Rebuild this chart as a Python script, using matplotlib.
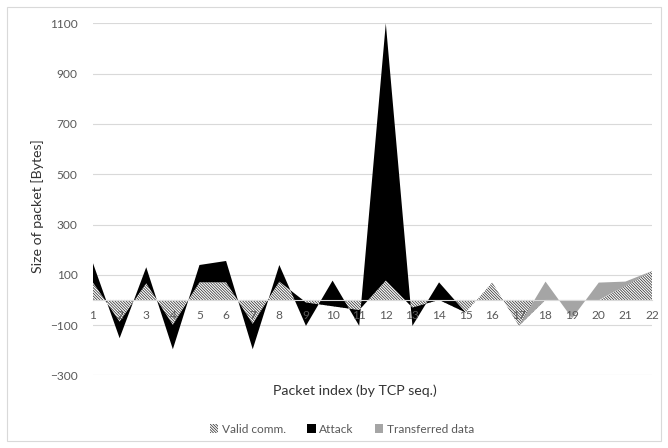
import numpy as np
import matplotlib.pyplot as plt
from matplotlib.patches import Patch, Rectangle

plt.rcParams['font.family'] = ['Lato', 'DejaVu Sans']
plt.rcParams['hatch.linewidth'] = 0.55

# Data (stacked area)
packets = list(range(1, 23))
valid = [69, -86, 66, -99, 70, 70, -95, 73, -10, -25, -40, 77, -30, 0,
         -50, 70, -103, 0, 0, 0, 55, 115]
attack = [77, -66, 64, -97, 69, 85, -101, 66, -93, 102, -63, 1023, -73, 70,
          0, 0, 0, 0, 0, 0, 0, 0]
transferred = [0, 0, 0, 0, 0, 0, 0, 0, 0, 0, 0, 0, 0, 0,
               0, 0, 0, 73, -73, 69, 18, 0]
yticks = [-300, -100, 100, 300, 500, 700, 900, 1100]

x = np.array(packets)
c1 = np.array(valid)
c2 = c1 + np.array(attack)
c3 = c2 + np.array(transferred)

HATCH = '\\' * 12

fig = plt.figure(figsize=(6.68, 4.48), dpi=100)
ax = fig.add_axes([93 / 668, 1 - 375.4 / 448, (652 - 93) / 668, (375.4 - 23.3) / 448])

# chart area border
fig.patches.append(Rectangle((7 / 668, 7 / 448), 654 / 668, 434 / 448,
                             transform=fig.transFigure, fill=False,
                             edgecolor='#d9d9d9', linewidth=0.8))

# gridlines behind the areas, tick labels stay on top
for t in yticks:
    ax.axhline(t, color='#d9d9d9', linewidth=0.8, zorder=0)

ax.fill_between(x, 0, c1, facecolor='white', edgecolor='#333333',
                hatch=HATCH, linewidth=0, zorder=1)
ax.fill_between(x, c1, c2, facecolor='black', linewidth=0, zorder=1)
ax.fill_between(x, c2, c3, facecolor='#a5a5a5', linewidth=0, zorder=1)

ax.set_xlim(1, 22)
ax.set_ylim(-300, 1100)
ax.set_yticks(yticks)
ax.set_xticks(packets)

for s in ['top', 'right', 'left']:
    ax.spines[s].set_visible(False)
ax.spines['bottom'].set_position(('data', 0))
ax.spines['bottom'].set_color('#d9d9d9')
ax.spines['bottom'].set_linewidth(0.8)
ax.spines['bottom'].set_zorder(5)

ax.tick_params(axis='both', length=0, labelsize=8.6, labelcolor='#595959')
ax.tick_params(axis='x', pad=7)
ax.tick_params(axis='y', pad=11)
ax.xaxis.set_zorder(6)

fig.text(38 / 668, 1 - 206 / 448, 'Size of packet [Bytes]', rotation=90,
         ha='center', va='center', fontsize=10.2, color='#333333')
fig.text(355 / 668, 1 - 391 / 448, 'Packet index (by TCP seq.)',
         ha='center', va='center', fontsize=10.2, color='#333333')

handles = [Patch(facecolor='white', edgecolor='#333333', hatch=HATCH, linewidth=0),
           Patch(facecolor='black', linewidth=0),
           Patch(facecolor='#a5a5a5', linewidth=0)]
fig.legend(handles, ['Valid comm.', 'Attack', 'Transferred data'],
           loc='center', bbox_to_anchor=(342 / 668, 1 - 429 / 448), ncol=3,
           frameon=False, fontsize=8.6, labelcolor='#595959',
           handlelength=0.7, handleheight=0.7, handletextpad=0.3,
           columnspacing=1.8)

fig.savefig('out.png', dpi=100)
